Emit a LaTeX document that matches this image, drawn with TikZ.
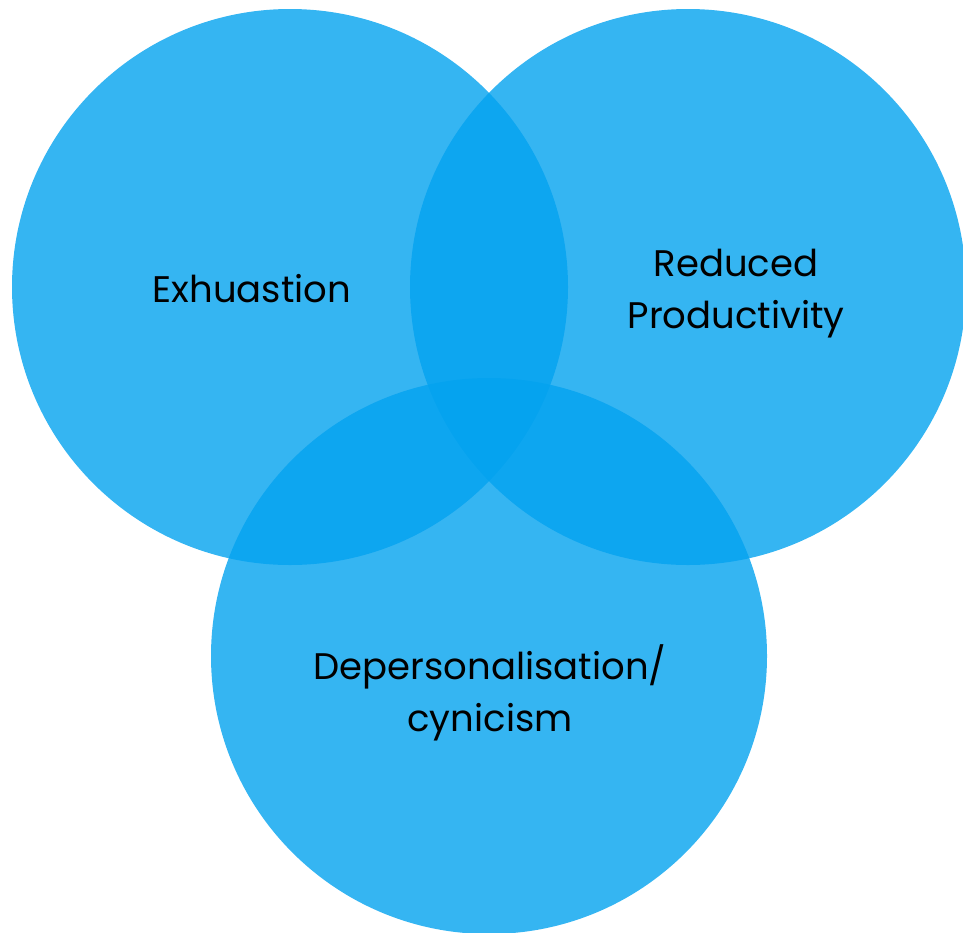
\documentclass[tikz,border=0pt]{standalone}
\usepackage{fontspec}
\setmainfont{Poppins}
\definecolor{skyblue}{RGB}{3,162,239}
\tikzset{
  ring/.style = {circle, fill = skyblue, fill opacity = 0.8, draw = none, minimum size = 556pt, inner sep = 0pt},
  tag/.style = {align = center, text = black, font = \fontsize{37}{52}\selectfont}
}
\begin{document}
\begin{tikzpicture}[x=1pt,y=-1pt]
  \useasboundingbox (0,0) rectangle (963,932);
  \clip (0,0) rectangle (963,932);
% the three sets
    \node [ring] (exh) at (290,287) {};
    \node [ring] (prod) at (688,287) {};
    \node [ring] (cyn) at (489,656) {};
% labels
    \node [tag] (exhtext) at (252,289) {Exhuastion};
    \node [tag] (prodtext) at (736,294) {Reduced\\Productivity};
    \node [tag] (cyntext) at (490,693) {Depersonalisation/\\cynicism};
\end{tikzpicture}
\end{document}
